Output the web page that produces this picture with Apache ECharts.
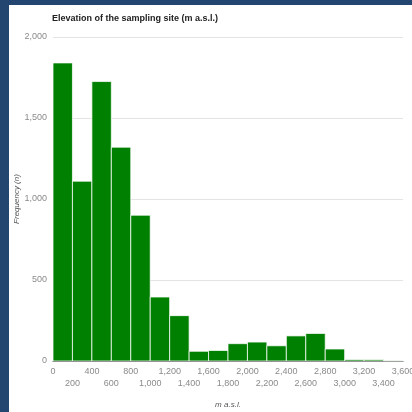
<!DOCTYPE html>
<html>
<head>
<meta charset="utf-8">
<script src="https://cdn.jsdelivr.net/npm/echarts@6/dist/echarts.min.js"></script>
<style>
  html, body { margin: 0; padding: 0; }
  body { width: 412px; height: 412px; background: #22466f; position: relative; overflow: hidden; }
  #chart { position: absolute; left: 9px; top: 5px; width: 403px; height: 407px; background: #ffffff; }
</style>
</head>
<body>
<div id="chart"></div>
<script>
// Histogram of sampling-site elevation, 200 m bins
const binStarts = [0, 200, 400, 600, 800, 1000, 1200, 1400, 1600, 1800,
                   2000, 2200, 2400, 2600, 2800, 3000, 3200, 3400];
const binWidth = 200;
const counts = [1840, 1110, 1725, 1320, 900, 395, 280, 60, 65, 107,
                117, 94, 155, 170, 74, 9, 8, 2];
const yTicks = [0, 500, 1000, 1500, 2000];
const xMin = 0, xMax = 3600;

const fmt = v => v.toLocaleString('en-US');
// tick labels alternate between two rows: even steps on the first, odd on the second
const isOddStep = v => Math.round(v / binWidth) % 2 === 1;

const labelStyle = { fontSize: 9, color: '#8a8a8a', hideOverlap: false, showMinLabel: true, showMaxLabel: true };

const chart = echarts.init(document.getElementById('chart'), null, { renderer: 'canvas' });

chart.setOption({
  animation: false,
  textStyle: { fontFamily: 'Liberation Sans, Arial, sans-serif' },
  title: {
    text: 'Elevation of the sampling site (m a.s.l.)',
    left: 38,
    top: 4,
    textStyle: { fontSize: 9, fontWeight: 'bold', color: '#222222' }
  },
  grid: { left: 44, right: 9, top: 32, bottom: 51, containLabel: false, outerBoundsMode: 'none' },
  xAxis: [{
    type: 'value',
    min: xMin,
    max: xMax,
    interval: binWidth,
    name: 'm a.s.l.',
    nameLocation: 'middle',
    nameGap: 40,
    nameMoveOverlap: false,
    nameTextStyle: { fontSize: 8, fontStyle: 'italic', color: '#555555' },
    axisLine: { show: true, lineStyle: { color: '#555555', width: 1 } },
    axisTick: { show: false },
    splitLine: { show: false },
    axisLabel: Object.assign({ margin: 6, formatter: v => isOddStep(v) ? '' : fmt(v) }, labelStyle)
  }, {
    type: 'value',
    position: 'bottom',
    offset: 12,
    min: xMin,
    max: xMax,
    interval: binWidth,
    axisLine: { show: false },
    axisTick: { show: false },
    splitLine: { show: false },
    axisLabel: Object.assign({ margin: 6, formatter: v => isOddStep(v) ? fmt(v) : '' }, labelStyle)
  }],
  yAxis: {
    type: 'value',
    min: yTicks[0],
    max: yTicks[yTicks.length - 1],
    interval: 500,
    name: 'Frequency (n)',
    nameLocation: 'middle',
    nameRotate: 90,
    nameGap: 32,
    nameMoveOverlap: false,
    nameTextStyle: { fontSize: 8, fontStyle: 'italic', color: '#555555' },
    axisLine: { show: false },
    axisTick: { show: false },
    splitLine: { lineStyle: { color: '#e4e4e4', width: 1 } },
    axisLabel: { fontSize: 9, color: '#8a8a8a', margin: 6, hideOverlap: false, formatter: v => fmt(v) }
  },
  series: [{
    type: 'custom',
    xAxisIndex: 0,
    data: binStarts.map((s, i) => [s, s + binWidth, counts[i]]),
    encode: { x: [0, 1], y: 2 },
    renderItem: function (params, api) {
      const p0 = api.coord([api.value(0), api.value(2)]);
      const p1 = api.coord([api.value(1), 0]);
      return {
        type: 'rect',
        shape: { x: p0[0], y: p0[1], width: p1[0] - p0[0], height: p1[1] - p0[1] },
        style: { fill: '#008000', stroke: 'rgba(255,255,255,0.75)', lineWidth: 1 }
      };
    },
    z: 3
  }]
});
</script>
</body>
</html>
